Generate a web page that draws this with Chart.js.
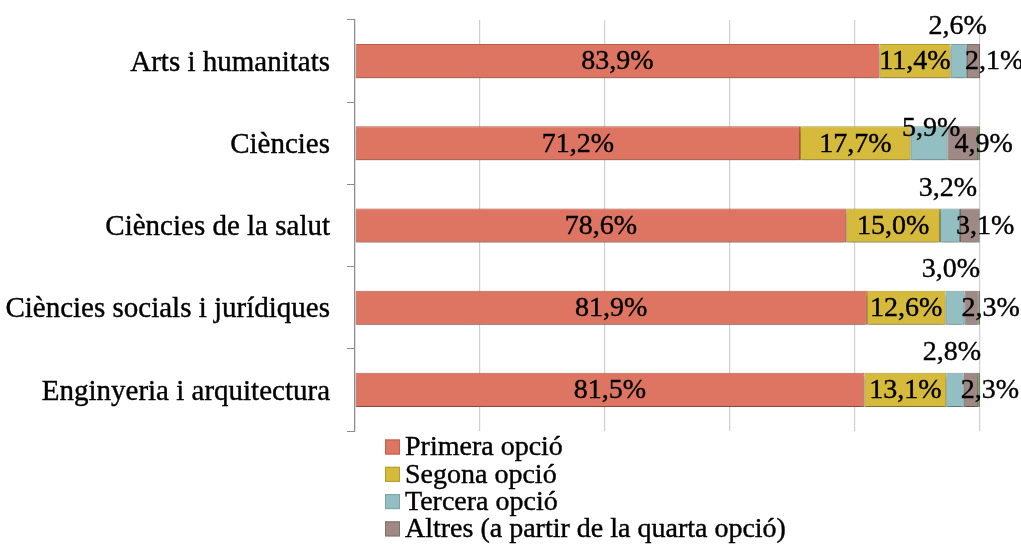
<!DOCTYPE html>
<html>
<head>
<meta charset="utf-8">
<script src="https://cdn.jsdelivr.net/npm/chart.js@4"></script>
<style>
html,body{margin:0;padding:0;background:#fff;}
#wrap{width:1021px;height:544px;position:relative;}
</style>
</head>
<body>
<div id="wrap"><canvas id="c" width="1021" height="544"></canvas></div>
<script>
const categories = ['Arts i humanitats', 'Ciències', 'Ciències de la salut', 'Ciències socials i jurídiques', 'Enginyeria i arquitectura'];
const seriesNames = ['Primera opció', 'Segona opció', 'Tercera opció', 'Altres (a partir de la quarta opció)'];
const primera = [83.9, 71.2, 78.6, 81.9, 81.5];
const segona = [11.4, 17.7, 15.0, 12.6, 13.1];
const tercera = [2.6, 5.9, 3.2, 3.0, 2.8];
const altres = [2.1, 4.9, 3.1, 2.3, 2.3];
const resta = [0.0, 0.3, 0.1, 0.2, 0.3];
const xTicks = [0, 20, 40, 60, 80, 100];

// label styling (pixel offsets, not data)
const terceraLabelRaise = [35, 16, 38, 39, 38];
const terceraLabelShift = [-1, 2, -2, -4, -3];
const altresLabelShift = [-2, 7, -4, -3, -3];

const fills = ['#DE7563', '#D5BA3C', '#93BFC2', '#9E8984', '#7FA173'];
const borders = ['#C35D4C', '#B59C2A', '#78A3A6', '#83706A', '#668A5C'];
const FONT = '"Liberation Serif", "DejaVu Serif", serif';

const fmt = v => v.toFixed(1).replace('.', ',') + '%';

const seriesData = [primera, segona, tercera, altres, resta];
const datasets = seriesData.map((d, i) => ({
  label: i < 4 ? seriesNames[i] : '',
  data: d,
  backgroundColor: fills[i],
  borderColor: borders[i],
  borderWidth: 1,
  borderSkipped: false,
  barPercentage: 0.415,
  categoryPercentage: 1.0
}));

function drawText(ctx, text, x, y, align, size) {
  ctx.save();
  ctx.font = size + 'px ' + FONT;
  ctx.fillStyle = '#000';
  ctx.strokeStyle = '#000';
  ctx.lineWidth = 0.4;
  ctx.textBaseline = 'middle';
  ctx.textAlign = align;
  ctx.fillText(text, x, y);
  ctx.strokeText(text, x, y);
  ctx.restore();
}

const customPlugin = {
  id: 'custom',
  beforeDatasetsDraw(chart) {
    const ctx = chart.ctx;
    ctx.save();
    ctx.shadowColor = 'rgba(0,0,0,0.30)';
    ctx.shadowBlur = 4;
    ctx.shadowOffsetX = 0;
    ctx.shadowOffsetY = 3;
  },
  afterDatasetsDraw(chart) {
    const ctx = chart.ctx;
    ctx.restore();
    for (let di = 0; di < 4; di++) {
      const meta = chart.getDatasetMeta(di);
      meta.data.forEach((el, i) => {
        const v = seriesData[di][i];
        const s = Math.min(el.x, el.base), e = Math.max(el.x, el.base);
        const txt = fmt(v);
        if (di < 2) {
          drawText(ctx, txt, (s + e) / 2, el.y + 1, 'center', 28);
        } else if (di === 2) {
          drawText(ctx, txt, (s + e) / 2 + terceraLabelShift[i], el.y + 1 - terceraLabelRaise[i], 'center', 28);
        } else {
          drawText(ctx, txt, s + altresLabelShift[i], el.y + 1, 'left', 28);
        }
      });
    }
    // legend
    const lx = 385, ly0 = 447, step = 27.3;
    ctx.save();
    for (let k = 0; k < 4; k++) {
      const y = ly0 + k * step;
      ctx.fillStyle = fills[k];
      ctx.fillRect(lx, y - 7.5, 15, 15);
      ctx.strokeStyle = borders[k];
      ctx.lineWidth = 1;
      ctx.strokeRect(lx + 0.5, y - 7, 14, 14);
      drawText(ctx, seriesNames[k], lx + 20, y + 1, 'left', 28);
    }
    ctx.restore();
  }
};

new Chart(document.getElementById('c'), {
  type: 'bar',
  data: { labels: categories, datasets },
  options: {
    indexAxis: 'y',
    responsive: false,
    animation: false,
    layout: { padding: { top: 20, bottom: 113, right: 41, left: 0 } },
    plugins: { legend: { display: false }, tooltip: { enabled: false } },
    scales: {
      x: {
        stacked: true,
        min: 0, max: 100,
        afterBuildTicks(scale) { scale.ticks = xTicks.map(v => ({ value: v })); },
        afterFit(scale) { scale.height = 0; scale.paddingLeft = 0; scale.paddingRight = 0; },
        ticks: { display: false },
        grid: { color: '#CFCFCF', lineWidth: 1.2, drawTicks: false },
        border: { display: false }
      },
      y: {
        stacked: true,
        afterFit(scale) { scale.width = 355; scale.paddingTop = 0; scale.paddingBottom = 0; },
        ticks: { color: '#000', font: { family: FONT, size: 29 }, padding: 17, labelOffset: 2, textStrokeColor: '#000', textStrokeWidth: 0.4 },
        grid: { drawOnChartArea: false, drawTicks: true, tickLength: 8, color: '#8C8C8C', offset: true },
        border: { color: '#8C8C8C', width: 1.2 }
      }
    }
  },
  plugins: [customPlugin]
});
</script>
</body>
</html>
